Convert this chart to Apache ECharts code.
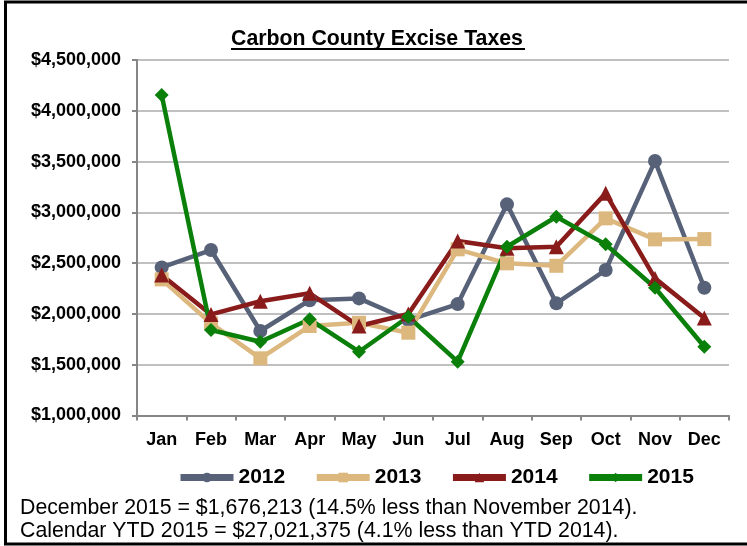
<!DOCTYPE html>
<html>
<head>
<meta charset="utf-8">
<script src="https://cdn.jsdelivr.net/npm/echarts@6/dist/echarts.min.js"></script>
<style>
  html, body { margin: 0; padding: 0; background: #fff; }
  #main { width: 747px; height: 546px; }
</style>
</head>
<body>
<div id="main"></div>
<script>
var months = ['Jan', 'Feb', 'Mar', 'Apr', 'May', 'Jun', 'Jul', 'Aug', 'Sep', 'Oct', 'Nov', 'Dec']
var years = ['2012', '2013', '2014', '2015']

var tax2012 = [2458000, 2629000, 1832000, 2135000, 2153000, 1940000, 2097000, 3079000, 2104000, 2432000, 3505000, 2258000]
var tax2013 = [2340000, 1907000, 1563000, 1881000, 1913000, 1815000, 2636000, 2498000, 2474000, 2941000, 2734000, 2737000]
var tax2014 = [2383000, 1995000, 2125000, 2203000, 1881000, 1999000, 2718000, 2646000, 2661000, 3187000, 2350000, 1960000]
var tax2015 = [4155000, 1842000, 1726000, 1947000, 1628000, 1972000, 1530000, 2661000, 2957000, 2685000, 2258000, 1676213]

var footNotes = [
  'December 2015 = $1,676,213 (14.5% less than November 2014).',
  'Calendar YTD 2015 = $27,021,375 (4.1% less than YTD 2014).'
]

var colors = ['#576178', '#dcb87e', '#8a1b1b', '#0a800a']
var symbols = ['circle', 'rect', 'triangle', 'diamond']
var symbolSizes = [14, 14, 15, 14]

var chartDom = document.getElementById('main')
var myChart = echarts.init(chartDom)

function money(v) {
  return '$' + String(v).replace(/\B(?=(\d{3})+(?!\d))/g, ',')
}

var seriesData = [tax2012, tax2013, tax2014, tax2015]
var font = 'Liberation Sans, Arial, sans-serif'

var option = {
  animation: false,
  textStyle: { fontFamily: font },
  grid: { left: 137, right: 18, top: 60, bottom: 130.5 },
  legend: {
    data: years,
    left: 172,
    top: 462,
    itemWidth: 53,
    itemHeight: 12,
    itemGap: 28,
    lineStyle: { width: 7 },
    textStyle: { fontSize: 21, fontWeight: 'bold', color: '#000' }
  },
  xAxis: {
    type: 'category',
    data: months,
    axisLine: { lineStyle: { color: '#868686', width: 2 } },
    axisTick: { show: true, length: 5, lineStyle: { color: '#868686', width: 2 } },
    axisLabel: { fontSize: 18, fontWeight: 'bold', color: '#000', margin: 16 }
  },
  yAxis: {
    type: 'value',
    min: 1000000,
    max: 4500000,
    interval: 500000,
    axisLine: { show: true, lineStyle: { color: '#868686', width: 2 } },
    axisTick: { show: true, length: 5, lineStyle: { color: '#868686', width: 2 } },
    splitLine: { lineStyle: { color: '#c0c0c0', width: 2 } },
    axisLabel: { fontSize: 18, fontWeight: 'bold', color: '#000', margin: 16, formatter: money }
  },
  graphic: [
    {
      type: 'polyline',
      shape: { points: [[760, 2], [5.5, 2], [5.5, 544], [760, 544]] },
      style: { stroke: '#000', lineWidth: 3, fill: null }
    },
    {
      type: 'text',
      left: 231,
      top: 29,
      style: { text: 'Carbon County Excise Taxes', fontSize: 21.3, fontWeight: 'bold', fill: '#000', fontFamily: font }
    },
    {
      type: 'line',
      shape: { x1: 231, y1: 49, x2: 525, y2: 49 },
      style: { stroke: '#000', lineWidth: 2 }
    },
    {
      type: 'text',
      left: 20,
      top: 498,
      style: { text: footNotes[0], fontSize: 21.3, fill: '#000', fontFamily: font }
    },
    {
      type: 'text',
      left: 20,
      top: 521,
      style: { text: footNotes[1], fontSize: 21.3, fill: '#000', fontFamily: font }
    }
  ],
  series: years.map(function (y, i) {
    return {
      name: y,
      type: 'line',
      data: seriesData[i],
      symbol: symbols[i],
      symbolSize: symbolSizes[i],
      showAllSymbol: true,
      color: colors[i],
      lineStyle: { width: 4.5, color: colors[i] },
      itemStyle: { color: colors[i] }
    }
  })
}

option && myChart.setOption(option)
</script>
</body>
</html>
